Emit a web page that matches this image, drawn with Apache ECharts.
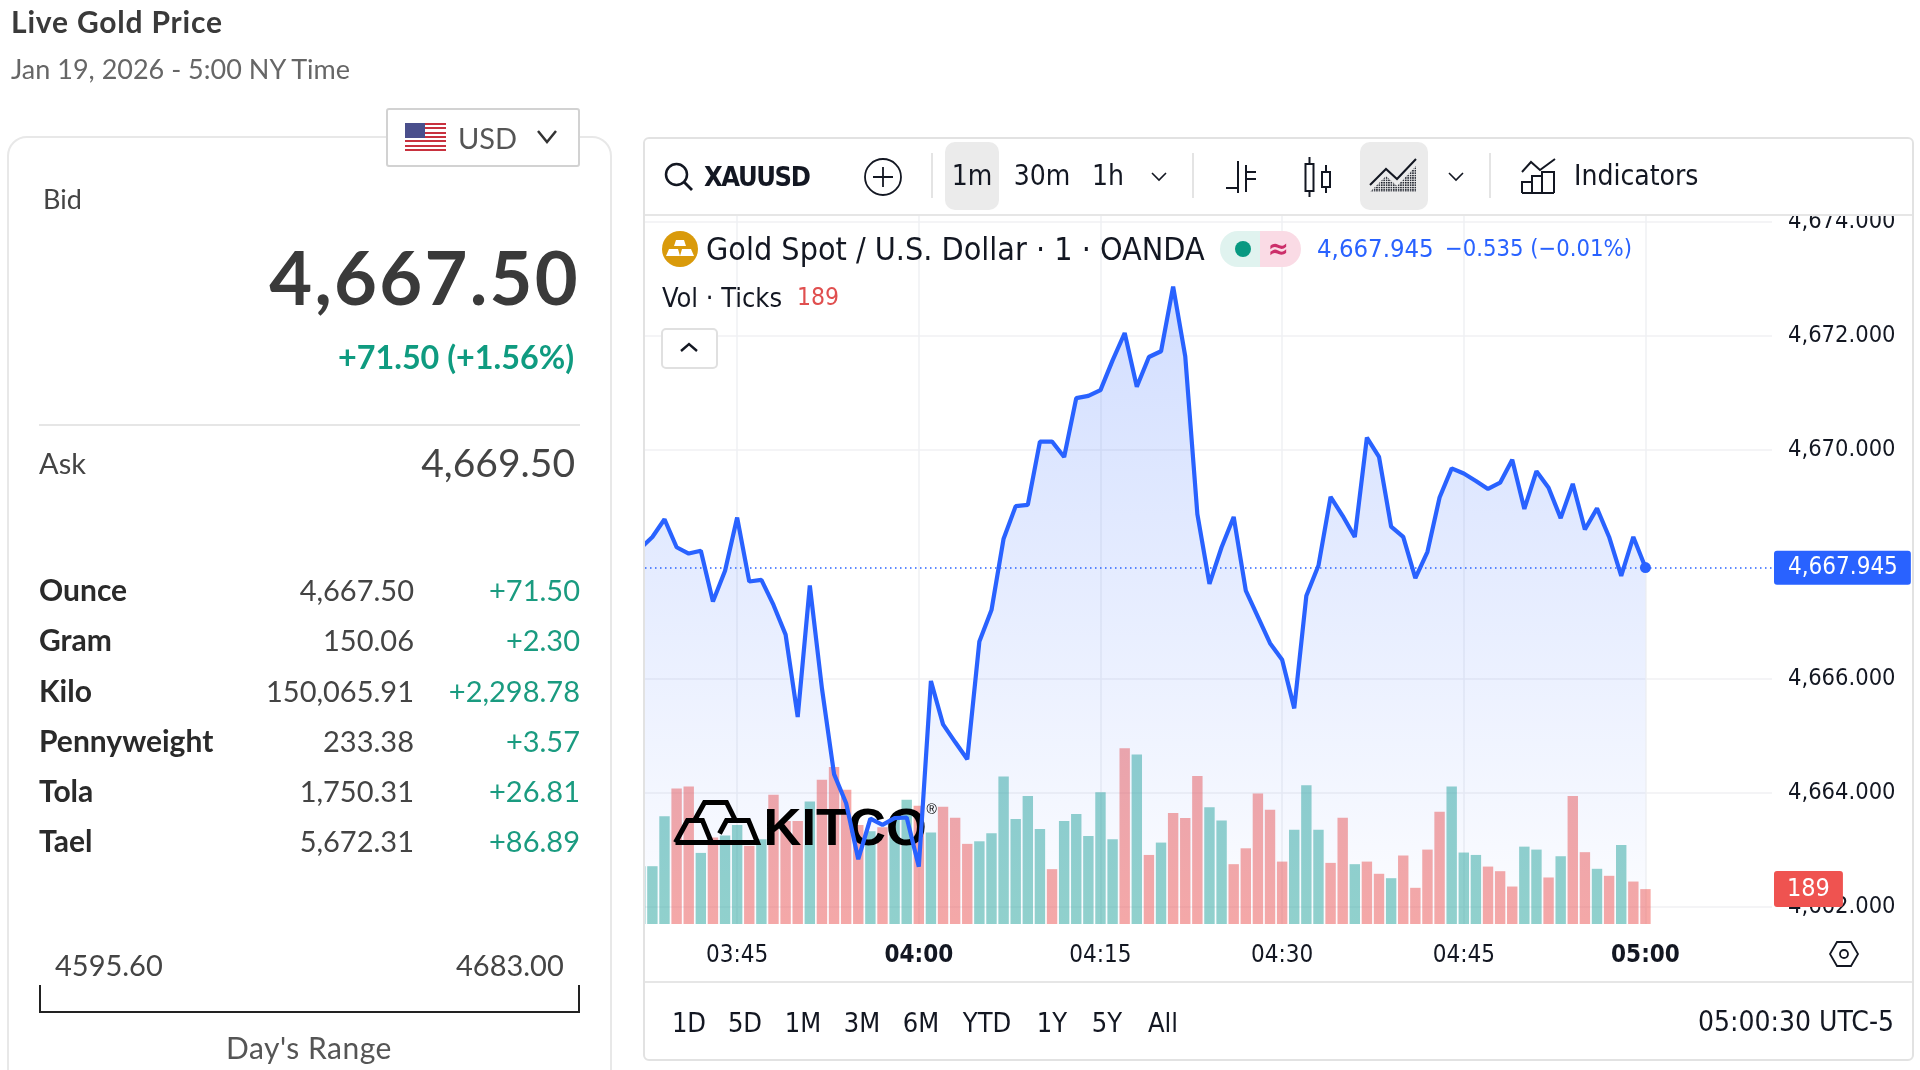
<!DOCTYPE html>
<html><head><meta charset="utf-8"><title>Live Gold Price</title>
<script src="https://cdn.jsdelivr.net/npm/echarts@6/dist/echarts.min.js"></script>
<style>
html,body{margin:0;padding:0;background:#fff;width:1920px;height:1070px;overflow:hidden}
#chart{position:absolute;left:0;top:0;width:1920px;height:1070px;z-index:0}
#ui{position:absolute;left:0;top:0;width:1920px;height:1070px;z-index:1;pointer-events:none}
.t{position:absolute;white-space:nowrap;line-height:1;transform:translateY(-50%)}
.c{transform:translate(-50%,-50%)}
.m{font-family:"Lato","Noto Sans",sans-serif}
.v{font-family:"DejaVu Sans Condensed","DejaVu Sans",sans-serif;color:#131722}
.box{position:absolute;box-sizing:border-box}
svg{position:absolute;overflow:visible}
</style></head><body>
<div id="chart"></div>
<div id="ui">
  <!-- left column -->
  <div class="t m" style="left:11px;top:21px;font-size:30px;font-weight:700;color:#3a3a3a;letter-spacing:.8px">Live Gold Price</div>
  <div class="t m" style="left:11px;top:68px;font-size:27px;color:#666">Jan 19, 2026 - 5:00 NY Time</div>
  <div class="box" style="left:614px;top:216px;width:29px;height:800px;background:#fff"></div>
  <div class="box" style="left:7px;top:136px;width:605px;height:960px;border:2px solid #e8e8e8;border-radius:20px"></div>
  <div class="box" style="left:386px;top:108px;width:194px;height:59px;background:#fff;border:2px solid #d2d2d2;border-radius:3px"></div>
  <div class="box" style="left:405px;top:123px;width:41px;height:28px;background:repeating-linear-gradient(#c8313e 0 2.15px,#fff 2.15px 4.3px)"></div>
  <div class="box" style="left:405px;top:123px;width:20px;height:15px;background:#4a4f8c"></div>
  <div class="t m" style="left:458px;top:137px;font-size:29px;color:#555">USD</div>
  <svg style="left:537px;top:130px" width="20" height="14"><polyline points="1,1 10,12 19,1" fill="none" stroke="#333" stroke-width="2.5"/></svg>
  <div class="t m" style="left:43px;top:198px;font-size:27px;color:#444">Bid</div>
  <div class="t m" style="right:1340px;top:277px;font-size:74px;font-weight:700;color:#3a3a3a;letter-spacing:2.3px">4,667.50</div>
  <div class="t m" style="right:1346px;top:357px;font-size:32.3px;font-weight:700;color:#0f9b80">+71.50 (+1.56%)</div>
  <div class="box" style="left:39px;top:424px;width:541px;height:2px;background:#e6e6e6"></div>
  <div class="t m" style="left:39px;top:462px;font-size:29px;color:#444">Ask</div>
  <div class="t m" style="right:1345px;top:462px;font-size:39px;color:#444">4,669.50</div>
  <div id="table"></div>
  <div class="t m" style="left:55px;top:964px;font-size:29px;color:#444">4595.60</div>
  <div class="t m" style="left:456px;top:964px;font-size:29px;color:#444">4683.00</div>
  <div class="box" style="left:39px;top:985px;width:541px;height:28px;border:2px solid #222;border-top:none"></div>
  <div class="t m c" style="left:309px;top:1047px;font-size:30px;color:#555;letter-spacing:.5px">Day's Range</div>

  <!-- chart card -->
  <div class="box" style="left:643px;top:137px;width:1271px;height:924px;border:2px solid #e2e2e2;border-radius:6px"></div>
  <div class="box" style="left:645px;top:139px;width:1267px;height:77px;background:#fff;border-bottom:2px solid #e6e6e6;border-radius:5px 5px 0 0"></div>
  <div class="box" style="left:645px;top:981px;width:1267px;height:2px;background:#e6e6e6"></div>
  <svg style="left:664px;top:162px" width="30" height="30"><circle cx="12.5" cy="12.5" r="10.5" fill="none" stroke="#131722" stroke-width="2.5"/><line x1="20" y1="20" x2="28" y2="28" stroke="#131722" stroke-width="2.8"/></svg>
  <div class="t v" style="left:704px;top:176px;font-size:27px;font-weight:700;letter-spacing:-1.4px">XAUUSD</div>
  <svg style="left:864px;top:158px" width="38" height="38"><circle cx="19" cy="19" r="18" fill="none" stroke="#131722" stroke-width="1.8"/><path d="M19 9V29M9 19H29" stroke="#131722" stroke-width="1.8"/></svg>
  <div class="box" style="left:931px;top:153px;width:1.5px;height:45px;background:#e4e4e4"></div>
  <div class="box" style="left:945px;top:142px;width:54px;height:68px;background:#ebebeb;border-radius:10px"></div>
  <div class="t v c" style="left:972px;top:176px;font-size:28px">1m</div>
  <div class="t v c" style="left:1042px;top:176px;font-size:28px">30m</div>
  <div class="t v c" style="left:1108px;top:176px;font-size:28px">1h</div>
  <svg style="left:1151px;top:172px" width="16" height="9"><polyline points="1,1 8,8 15,1" fill="none" stroke="#131722" stroke-width="1.6"/></svg>
  <div class="box" style="left:1192px;top:153px;width:1.5px;height:45px;background:#e4e4e4"></div>
  <svg style="left:1226px;top:160px" width="30" height="34"><path d="M12 1V33M0 28H12M20 5V32M20 12H30M20 19H30" fill="none" stroke="#131722" stroke-width="2"/><path d="M20 10V28" stroke="#131722" stroke-width="2"/></svg>
  <svg style="left:1304px;top:157px" width="28" height="40"><rect x="1.5" y="7" width="8" height="27" fill="none" stroke="#131722" stroke-width="2"/><path d="M5.5 0V7M5.5 34V40M22 8V15M22 30V36" stroke="#131722" stroke-width="2"/><rect x="18" y="15" width="8" height="15" fill="none" stroke="#131722" stroke-width="2"/></svg>
  <div class="box" style="left:1360px;top:142px;width:68px;height:68px;background:#ebebeb;border-radius:10px"></div>
  <svg style="left:1369px;top:158px" width="48" height="36"><defs><pattern id="dots" width="2.4" height="2.4" patternUnits="userSpaceOnUse"><rect width="1.5" height="1.5" fill="#131722"/></pattern></defs><polygon points="1,34 17,18 28,28 47,8 47,34" fill="url(#dots)"/><polyline points="1,27 17,11 28,21 47,1" fill="none" stroke="#131722" stroke-width="2"/></svg>
  <svg style="left:1448px;top:172px" width="16" height="9"><polyline points="1,1 8,8 15,1" fill="none" stroke="#131722" stroke-width="1.6"/></svg>
  <div class="box" style="left:1489px;top:153px;width:1.5px;height:45px;background:#e4e4e4"></div>
  <svg style="left:1521px;top:158px" width="35" height="36"><polyline points="1,14 10,4 19,12 34,1" fill="none" stroke="#131722" stroke-width="2"/><path d="M1 35V24H11V35M11 35V18H21V35M21 35V14H33V35M1 35H33" fill="none" stroke="#131722" stroke-width="2"/></svg>
  <div class="t v" style="left:1574px;top:176px;font-size:28px">Indicators</div>

  <div class="box" style="left:662px;top:231px;width:36px;height:36px;background:#d99a0b;border-radius:50%"></div>
  <svg style="left:664px;top:239px" width="32" height="20"><path d="M12 1H20L22 7H10ZM5 10H14L16 17H2ZM18 10H27L30 17H16Z" fill="#fff"/></svg>
  <div class="t v" style="left:706px;top:249px;font-size:32px">Gold Spot / U.S. Dollar · 1 · OANDA</div>
  <div class="box" style="left:1220px;top:231px;width:40px;height:36px;background:#e0f3ef;border-radius:18px 0 0 18px"></div>
  <div class="box" style="left:1235px;top:241px;width:16px;height:16px;background:#089981;border-radius:50%"></div>
  <div class="box" style="left:1260px;top:231px;width:41px;height:36px;background:#fadbe5;border-radius:0 18px 18px 0"></div>
  <div class="t v c" style="left:1278px;top:249px;font-size:28px;color:#cc2f6a;font-weight:700">≈</div>
  <div class="t v" style="left:1317px;top:249px;font-size:25.5px;color:#2962ff">4,667.945</div>
  <div class="t v" style="left:1445px;top:249px;font-size:23.6px;color:#2962ff">−0.535 (−0.01%)</div>
  <div class="t v" style="left:662px;top:297px;font-size:27px">Vol · Ticks</div>
  <div class="t v" style="left:797px;top:297px;font-size:24.5px;color:#e04f4f">189</div>
  <div class="box" style="left:661px;top:328px;width:57px;height:41px;background:#fff;border:2px solid #e0e0e0;border-radius:5px"></div>
  <svg style="left:680px;top:342px" width="18" height="11"><polyline points="1,9 9,2 17,9" fill="none" stroke="#131722" stroke-width="2.4"/></svg>

  <svg style="left:1829px;top:939px" width="30" height="30"><polygon points="8,3 22,3 29,15 22,27 8,27 1,15" fill="none" stroke="#131722" stroke-width="1.8"/><circle cx="15" cy="15" r="4" fill="none" stroke="#131722" stroke-width="1.8"/></svg>
  <div id="ranges"></div>
  <div class="t v" style="right:26px;top:1022px;font-size:28px">05:00:30 UTC-5</div>
</div>
<script>
// ---- chart data, one entry per minute from 03:37 to 05:00 ----
const firstMinute = 217; // 03:37
const prices = [4668.28,4668.48,4668.79,4668.30,4668.19,4668.24,4667.35,4667.89,4668.82,4667.70,4667.73,4667.29,4666.77,4665.33,4667.63,4665.83,4664.33,4663.82,4662.84,4663.55,4663.44,4663.56,4663.57,4662.71,4665.96,4665.20,4664.89,4664.59,4666.65,4667.20,4668.45,4669.02,4669.04,4670.15,4670.15,4669.88,4670.91,4670.95,4671.05,4671.57,4672.05,4671.11,4671.63,4671.73,4672.86,4671.64,4668.88,4667.66,4668.30,4668.83,4667.54,4667.08,4666.62,4666.33,4665.48,4667.45,4667.98,4669.18,4668.85,4668.48,4670.22,4669.88,4668.66,4668.48,4667.76,4668.22,4669.17,4669.68,4669.59,4669.46,4669.32,4669.43,4669.83,4668.97,4669.63,4669.34,4668.81,4669.41,4668.61,4668.98,4668.48,4667.80,4668.48,4667.945];
const volumes = [313,313,583,734,745,385,468,479,536,423,459,700,558,558,664,781,851,727,536,502,524,569,673,641,495,635,576,434,448,491,799,569,693,515,297,558,596,477,713,459,952,918,374,441,601,574,801,632,560,324,410,707,619,338,511,752,511,331,576,324,338,272,248,371,196,403,608,745,387,374,311,286,203,419,403,252,367,693,389,299,261,428,230,189];
const volumeDirs = "g g g p p g p g g p g p p p g p p p p g p g g p g p p p g g g g g g p g g g g g p g p g p p p g g p p p p p g g g p p g p p g p p p p g g g p p p g g p g p p g p g p p g p".split(" ");
const timeTicks = ["03:45","04:00","04:15","04:30","04:45","05:00"];
const boldTicks = ["04:00","05:00"];
const priceTicks = [4662,4664,4666,4670,4672,4674];
const lastPrice = 4667.945;
const lastVolume = 189;
// ---- side table ----
const units = ["Ounce","Gram","Kilo","Pennyweight","Tola","Tael"];
const unitPrices = ["4,667.50","150.06","150,065.91","233.38","1,750.31","5,672.31"];
const unitChanges = ["+71.50","+2.30","+2,298.78","+3.57","+26.81","+86.89"];
const unitRowY = [589,639,690,740,790,840];
const rangeButtons = ["1D","5D","1M","3M","6M","YTD","1Y","5Y","All"];
const rangeButtonX = [689,745,803,862,921,987,1052,1107,1163];

let tableHtml = "";
units.forEach((u,i)=>{
  tableHtml += `<div class="t m" style="left:39px;top:${unitRowY[i]}px;font-size:30px;font-weight:700;color:#2a2a2a">${u}</div>`
    + `<div class="t m" style="right:1506px;top:${unitRowY[i]}px;font-size:29px;color:#444">${unitPrices[i]}</div>`
    + `<div class="t m" style="right:1340px;top:${unitRowY[i]}px;font-size:29px;color:#1a9b80">${unitChanges[i]}</div>`;
});
document.getElementById("table").innerHTML = tableHtml;
document.getElementById("ranges").innerHTML = rangeButtons.map((r,i)=>`<div class="t v c" style="left:${rangeButtonX[i]}px;top:1022px;font-size:27px">${r}</div>`).join("");

const toMin = s => { const [h,m] = s.split(":").map(Number); return h*60+m; };
const fmtMin = v => String(Math.floor(v/60)).padStart(2,"0")+":"+String(v%60).padStart(2,"0");
const pricePts = prices.map((p,i)=>[firstMinute+i,p]);
const volPts = volumes.map((v,i)=>[firstMinute+i,v]);
const tickMinutes = timeTicks.map(toMin);
const lineBlue = "#2962ff";
const vFont = '"DejaVu Sans Condensed","DejaVu Sans",sans-serif';

const chart = echarts.init(document.getElementById("chart"));
chart.setOption({
  animation:false,
  backgroundColor:"#fff",
  grid:{left:645,right:148,top:215,bottom:146,containLabel:false},
  xAxis:{type:"value",min:217.39,max:310.45,
    axisLine:{show:false},
    axisTick:{show:false,customValues:tickMinutes},
    splitLine:{show:true,showMinLine:true,showMaxLine:true,lineStyle:{color:"#eff0f3",width:1.5}},
    axisLabel:{customValues:tickMinutes,margin:20,color:"#131722",fontFamily:vFont,fontSize:24,hideOverlap:false,
      showMinLabel:true,showMaxLabel:true,
      formatter:v=>{const s=fmtMin(v);return boldTicks.includes(s)?`{b|${s}}`:s;},
      rich:{b:{fontWeight:700,fontFamily:vFont,fontSize:24,color:"#131722"}}}
  },
  yAxis:[
    {type:"value",position:"right",min:4661.706,max:4674.115,
      axisLine:{show:false},
      axisTick:{show:false,customValues:priceTicks},
      splitLine:{show:true,showMinLine:true,showMaxLine:true,lineStyle:{color:"#f0f1f3",width:1.5}},
      axisLabel:{customValues:priceTicks,margin:16,color:"#131722",fontFamily:vFont,fontSize:23.5,padding:[2,0,0,0],
        showMinLabel:true,showMaxLabel:true,
        formatter:v=>v.toLocaleString("en-US",{minimumFractionDigits:3,maximumFractionDigits:3})}
    },
    {type:"value",show:false,min:0,max:3840,splitLine:{show:false}}
  ],
  graphic:{elements:[{type:"group",left:673,top:800,z:3,children:[
    {type:"polyline",z:3,shape:{points:[[2,42],[14,20],[29,20],[38,42],[2,42]]},style:{fill:null,stroke:"#000",lineWidth:5,lineJoin:"miter"}},
    {type:"polyline",z:3,shape:{points:[[21,20],[31,2],[53,2],[62,20]]},style:{fill:null,stroke:"#000",lineWidth:5}},
    {type:"polyline",z:3,shape:{points:[[46,33],[53,20],[75,20],[84,42],[36,42]]},style:{fill:null,stroke:"#000",lineWidth:5}},
    {type:"text",z:3,x:90,y:4,style:{text:"KITCO",font:'700 52.5px "Liberation Sans",sans-serif',fill:"#000"}},
    {type:"text",z:3,x:253,y:3,style:{text:"®",font:'14px "Liberation Sans",sans-serif',fill:"#000"}}
  ]}]},
  series:[
    {type:"bar",yAxisIndex:1,z:1,barWidth:10.4,clip:true,data:volPts,silent:true,
      itemStyle:{color:p=>volumeDirs[p.dataIndex]==="g"?"rgba(38,166,154,0.5)":"rgba(239,83,80,0.5)"}},
    {type:"line",z:2,data:pricePts,symbol:"none",silent:true,lineStyle:{width:0},
      areaStyle:{origin:"start",color:new echarts.graphic.LinearGradient(0,0,0,1,[
        {offset:0,color:"rgba(41,98,255,0.30)"},{offset:1,color:"rgba(41,98,255,0.02)"}])}},
    {type:"line",z:4,data:pricePts,showSymbol:true,showAllSymbol:true,symbol:"circle",silent:true,
      symbolSize:(v,p)=>p.dataIndex===prices.length-1?11:0,
      lineStyle:{color:lineBlue,width:4.2,join:"bevel"},itemStyle:{color:lineBlue},
      markLine:{silent:true,symbol:"none",data:[{yAxis:lastPrice}],
        lineStyle:{color:lineBlue,type:[1.5,3.5],width:1.5,opacity:1},
        label:{position:"end",distance:2,formatter:"4,667.945",color:"#fff",fontFamily:vFont,fontSize:24,
          backgroundColor:lineBlue,borderRadius:3,padding:[7,13,3,14]}}},
    {type:"line",yAxisIndex:1,z:5,data:[],symbol:"none",silent:true,
      markLine:{silent:true,symbol:"none",lineStyle:{color:"rgba(0,0,0,0)",width:1},data:[{yAxis:lastVolume}],
        label:{show:true,position:"end",distance:2,formatter:String(lastVolume),color:"#fff",fontFamily:vFont,fontSize:25,
          backgroundColor:"#ef5350",borderRadius:3,padding:[7,13,4,13]}}}
  ]
});
</script>
</body></html>
